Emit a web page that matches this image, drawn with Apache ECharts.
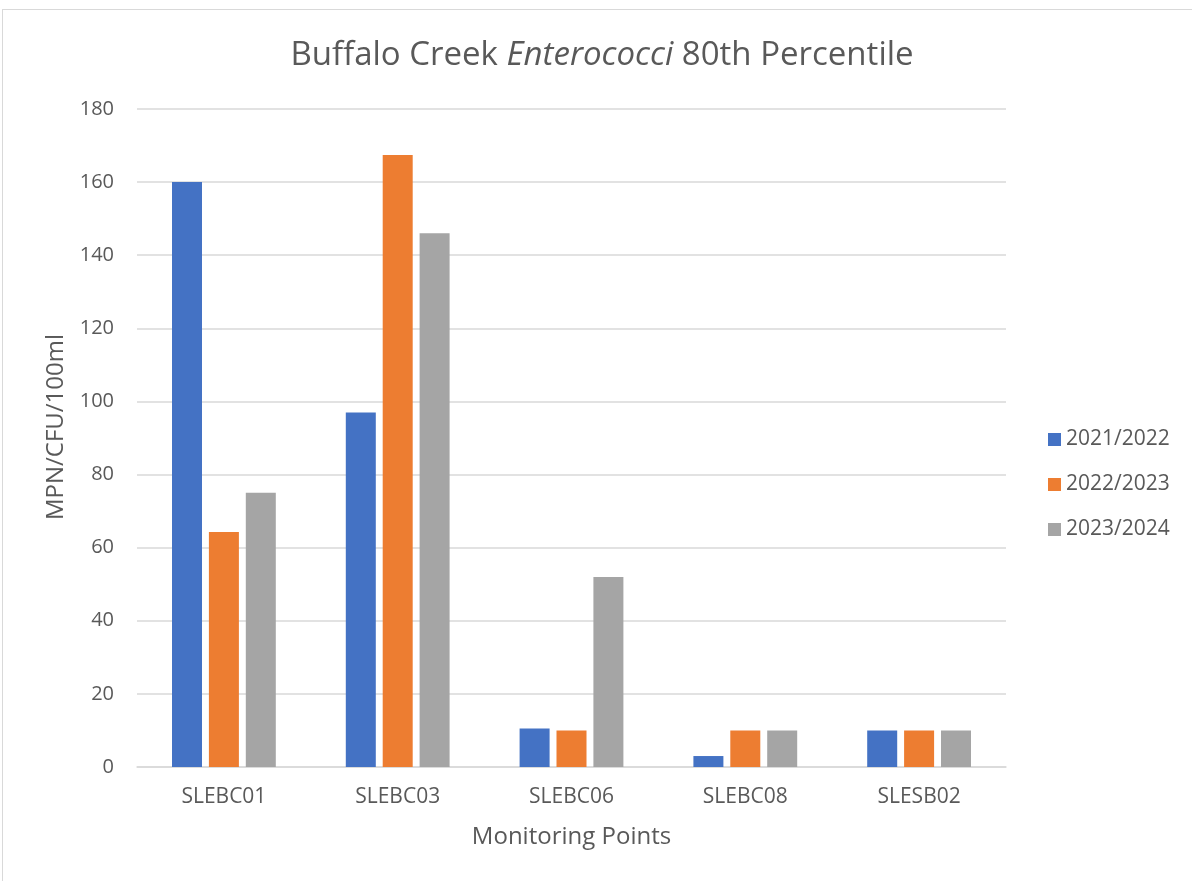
<!DOCTYPE html>
<html>
<head>
<meta charset="utf-8">
<script src="https://cdn.jsdelivr.net/npm/echarts@6/dist/echarts.min.js"></script>
<style>
  html, body { margin: 0; padding: 0; background: #fff; }
  #frame { position: absolute; left: 2px; top: 9px; width: 1200px; height: 900px; border: 1px solid #d9d9d9; }
  #chart { position: absolute; left: 0; top: 0; width: 1192px; height: 881px; }
</style>
</head>
<body>
<div id="frame"></div>
<div id="chart"></div>
<script>
// monitoring points on the x axis
const categories = ['SLEBC01', 'SLEBC03', 'SLEBC06', 'SLEBC08', 'SLESB02']
// 80th percentile per season
const s2122 = [160, 97, 10.5, 3, 10]
const s2223 = [64.3, 167.4, 10, 10, 10]
const s2324 = [75, 146, 52, 10, 10]
const yTicks = [0, 20, 40, 60, 80, 100, 120, 140, 160, 180]

const myChart = echarts.init(document.getElementById('chart'))
const font = '"Open Sans", "Liberation Sans", sans-serif'
const textColor = '#595959'

const option = {
  backgroundColor: 'transparent',
  textStyle: { fontFamily: font },
  title: {
    text: '{n|Buffalo Creek }{i|Enterococci}{n| 80th Percentile}',
    left: 597,
    textAlign: 'center',
    top: 34,
    textStyle: {
      fontWeight: 'normal',
      rich: {
        n: { fontSize: 33, color: textColor, fontFamily: font, fontWeight: 'normal' },
        i: { fontSize: 33, color: textColor, fontFamily: font, fontWeight: 'normal', fontStyle: 'italic' }
      }
    }
  },
  legend: {
    orient: 'vertical',
    left: 1043,
    top: 424,
    itemWidth: 13,
    itemHeight: 13,
    itemGap: 24,
    icon: 'rect',
    textStyle: { fontSize: 21, color: textColor }
  },
  grid: {
    left: 137,
    right: 186,
    top: 109,
    bottom: 114
  },
  xAxis: {
    type: 'category',
    data: categories,
    name: 'Monitoring Points',
    nameLocation: 'middle',
    nameGap: 58,
    nameTextStyle: { fontSize: 24, color: textColor },
    axisTick: { show: false },
    axisLine: { lineStyle: { color: '#d9d9d9', width: 1.5 } },
    axisLabel: { fontSize: 21, color: textColor, margin: 20 }
  },
  yAxis: {
    type: 'value',
    min: yTicks[0],
    max: yTicks[yTicks.length - 1],
    interval: 20,
    name: 'MPN/CFU/100ml',
    nameLocation: 'middle',
    nameGap: 69,
    nameTextStyle: { fontSize: 24, color: textColor, padding: [0, 0, 0, 22] },
    axisLine: { show: false },
    axisTick: { show: false },
    axisLabel: { fontSize: 20, color: textColor, margin: 23 },
    splitLine: { lineStyle: { color: '#d9d9d9', width: 1.5 } }
  },
  series: [
    { name: '2021/2022', type: 'bar', data: s2122, color: '#4472c4', barWidth: 30, barGap: '23%', barCategoryGap: '40%' },
    { name: '2022/2023', type: 'bar', data: s2223, color: '#ed7d31', barWidth: 30, barGap: '23%', barCategoryGap: '40%' },
    { name: '2023/2024', type: 'bar', data: s2324, color: '#a5a5a5', barWidth: 30, barGap: '23%', barCategoryGap: '40%' }
  ]
}
myChart.setOption(option)
</script>
</body>
</html>
